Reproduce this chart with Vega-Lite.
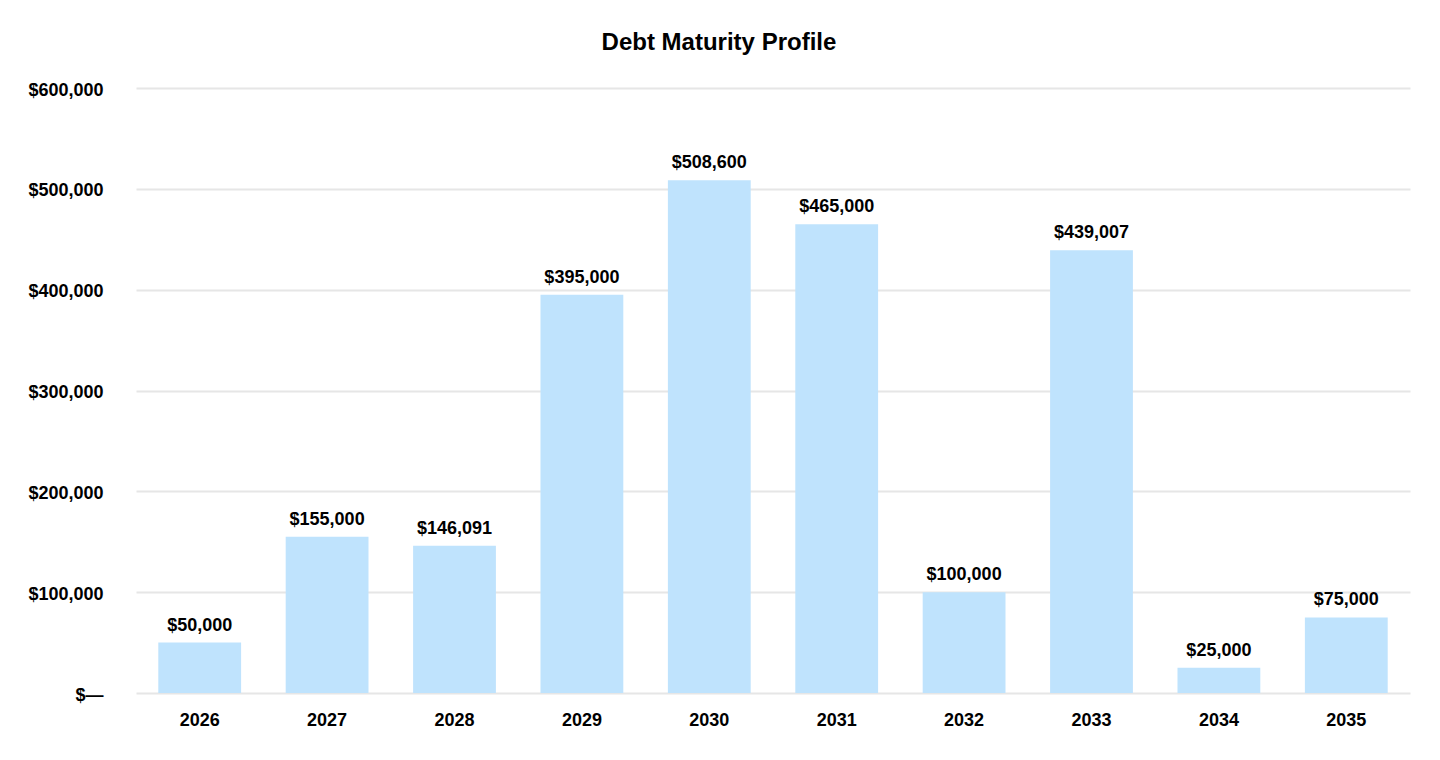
{
  "$schema": "https://vega.github.io/schema/vega-lite/v6.json",
  "autosize": "none",
  "width": 1274,
  "height": 605,
  "padding": {"left": 136, "top": 88, "right": 30, "bottom": 67},
  "background": "white",
  "title": {
    "text": "Debt Maturity Profile",
    "font": "Liberation Sans",
    "fontSize": 24,
    "fontWeight": "bold",
    "color": "#000000",
    "anchor": "middle",
    "frame": "bounds",
    "offset": 26
  },
  "config": {
    "view": {"stroke": null},
    "font": "Liberation Sans"
  },
  "data": {
    "values": [
      {"year": "2026", "amount": 50000},
      {"year": "2027", "amount": 155000},
      {"year": "2028", "amount": 146091},
      {"year": "2029", "amount": 395000},
      {"year": "2030", "amount": 508600},
      {"year": "2031", "amount": 465000},
      {"year": "2032", "amount": 100000},
      {"year": "2033", "amount": 439007},
      {"year": "2034", "amount": 25000},
      {"year": "2035", "amount": 75000}
    ]
  },
  "encoding": {
    "x": {
      "field": "year",
      "type": "ordinal",
      "scale": {"paddingInner": 0.35, "paddingOuter": 0.175},
      "axis": {
        "title": null,
        "labelAngle": 0,
        "labelFont": "Liberation Sans",
        "labelFontSize": 18,
        "labelFontWeight": "bold",
        "labelColor": "#000000",
        "labelPadding": 18,
        "ticks": false,
        "domain": false
      }
    },
    "y": {
      "field": "amount",
      "type": "quantitative",
      "scale": {"domain": [0, 600000]},
      "axis": {
        "title": null,
        "values": [0, 100000, 200000, 300000, 400000, 500000, 600000],
        "labelOverlap": false,
        "labelExpr": "datum.value == 0 ? '$\u2014' : format(datum.value, '$,.0f')",
        "labelFont": "Liberation Sans",
        "labelFontSize": 18,
        "labelFontWeight": "bold",
        "labelColor": "#000000",
        "labelPadding": 33,
        "labelOffset": 2,
        "ticks": false,
        "domain": false,
        "grid": true,
        "gridColor": "#e6e6e6",
        "gridWidth": 2
      }
    }
  },
  "layer": [
    {
      "mark": {"type": "bar", "color": "#bfe3fd"}
    },
    {
      "mark": {
        "type": "text",
        "baseline": "bottom",
        "dy": -8,
        "font": "Liberation Sans",
        "fontSize": 18,
        "fontWeight": "bold",
        "color": "#000000"
      },
      "encoding": {
        "text": {"field": "amount", "type": "quantitative", "format": "$,.0f"}
      }
    }
  ]
}
